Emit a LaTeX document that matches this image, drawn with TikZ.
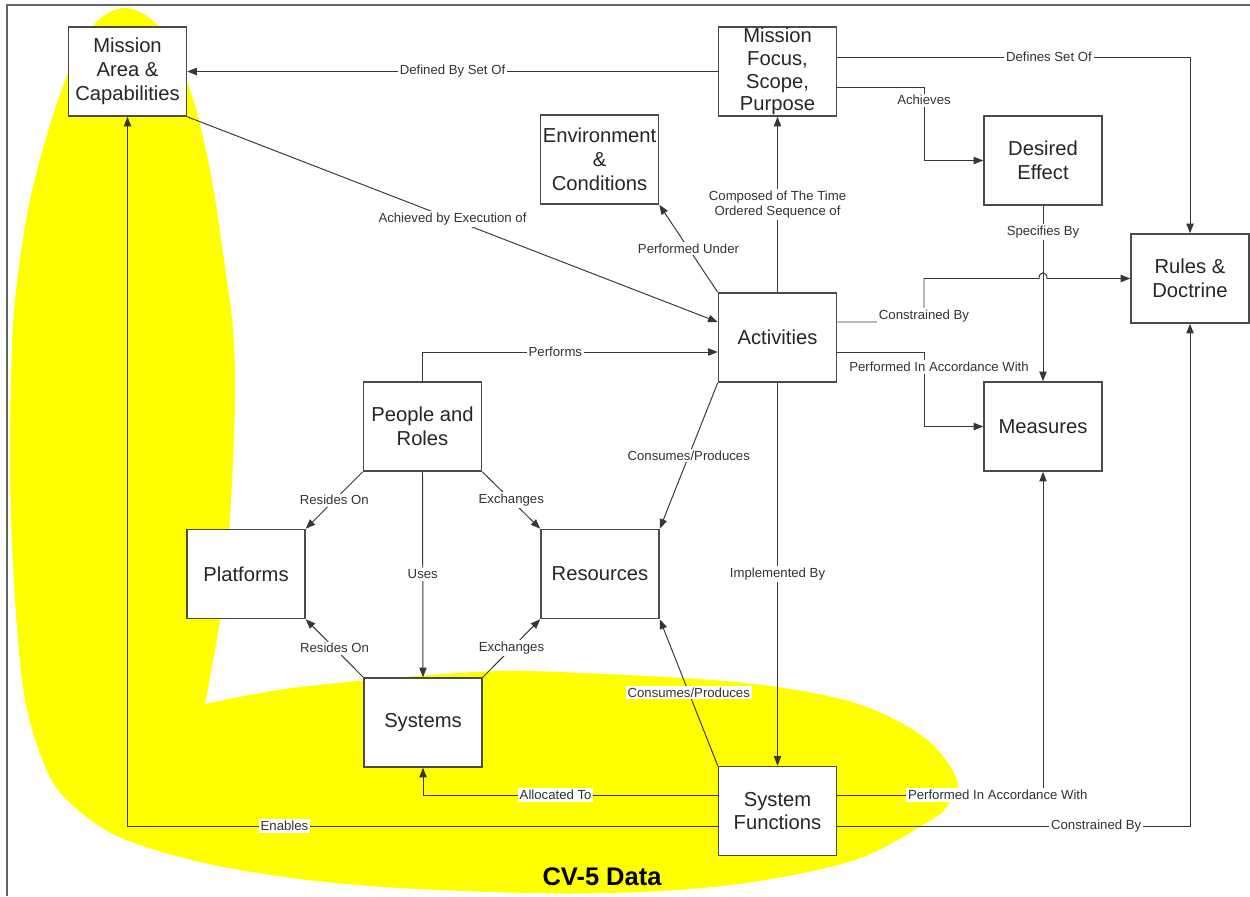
\documentclass[tikz,border=0pt]{standalone}
\usepackage{fontspec}
\setmainfont{Liberation Sans}
\usetikzlibrary{arrows.meta}
\definecolor{cvyellow}{RGB}{255,255,0}
\definecolor{edgegray}{RGB}{55,55,55}
\definecolor{boxgray}{RGB}{75,75,75}
\definecolor{framegray}{RGB}{100,100,100}

\begin{document}
\begin{tikzpicture}[x=0.02cm,y=-0.02cm,
  box/.style={draw=boxgray, line width=0.9pt, fill=white, minimum width=2.36cm,
    minimum height=1.78cm, inner sep=0pt, align=center,
    font=\fontsize{11.5}{13.6}\selectfont, text=black!85},
  conn/.style={draw=edgegray, line width=0.55pt, -{Triangle[length=5.5pt,width=4.2pt]}},
  lbl/.style={fill=white, inner sep=1pt, align=center,
    font=\fontsize{7.5}{9}\selectfont, text=black!80},
  title/.style={font=\fontsize{14.5}{17}\selectfont\bfseries, text=black}
]
\useasboundingbox (0,0) rectangle (1250,896);

% CV-5 data region
\fill[cvyellow] plot[smooth, tension=0.55] coordinates {
  (205,704) (300,687) (475,672) (583,673) (746,683) (855,703) (925,738)
  (957,780) (948,805) (928,822) (855,860) (746,883) (640,892) (529,893)
  (400,888) (300,879) (200,862) (117,836) (67,800) (45,766) (25,700)
  (15,600) (10,480) (11,380) (15,300) (30,200) (58,100) (88,32) (123,8)
  (160,28) (190,90) (210,170) (224,260) (233,330) (235,400) (231,500)
  (223,600) (205,704)};

% frame
\draw[framegray, line width=0.7pt] (7,896) -- (7,5) -- (1250,5);

% boxes
\node[box] (ma)   at (127.5,71.5) {Mission\\Area \&\\Capabilities};
\node[box] (mf)   at (777.5,71.5) {\smash{\raisebox{-3.4pt}{\fontsize{11.5}{12.9}\selectfont
  \begin{tabular}{@{}c@{}}Mission\\Focus,\\Scope,\\Purpose\end{tabular}}}};
\node[box] (env)  at (599.5,159.5) {Environment\\\&\\Conditions};
\node[box] (de)   at (1043,160.5) {Desired\\Effect};
\node[box] (rd)   at (1190,278.5) {Rules \&\\Doctrine};
\node[box] (act)  at (777.5,337.5) {Activities};
\node[box] (ppl)  at (422.5,426.5) {People and\\Roles};
\node[box] (meas) at (1043,426.5) {Measures};
\node[box] (plat) at (246,574) {Platforms};
\node[box] (res)  at (600,574) {Resources};
\node[box] (sys)  at (423,722.5) {Systems};
\node[box] (sf)   at (777.5,811) {System\\Functions};

% connectors around the mission focus
\draw[conn] (mf.west) -- node[lbl] {Defined By Set Of} (ma.east);
\draw[conn] (mf.east |- 0,57) -| node[lbl, pos=0.3] {Defines Set Of} (rd.north);
\draw[conn] (mf.east |- 0,87) -| node[lbl, pos=0.59] {Achieves} (924,160.5) -- (de.west);
\draw[conn] (act.north) -- node[lbl] {Composed of The Time\\Ordered Sequence of} (mf.south);
\draw[conn] (act.north west) -- node[lbl] {Performed Under} (env.south east);
\draw[conn] (ma.south east) -- node[lbl] {Achieved by Execution of} (act.west |- 0,322);

% activities to rules and measures (with a hop over the vertical line)
\draw[conn] (act.east |- 0,322) -- (924,322) -- (924,278.5) -- (1039,278.5)
  .. controls (1039,271) and (1047,271) .. (1047,278.5) -- (rd.west);
\node[lbl] (lcb) at (924,316) {Constrained By};
\draw[conn] (act.east |- 0,352) -| (924,426.5) -- (meas.west);
\node[lbl] (lpa) at (939,367) {Performed In Accordance With};
\draw[conn] (de.south) -- node[lbl, pos=0.15] {Specifies By} (meas.north);

% people, resources, systems
\draw[conn] (ppl.north) |- node[lbl, pos=0.725] {Performs} (act.west |- 0,352);
\draw[conn] (act.south west) -- node[lbl] {Consumes/Produces} (res.north east);
\draw[conn] (ppl.south west) -- node[lbl] {Resides On} (plat.north east);
\draw[conn] (ppl.south east) -- node[lbl] {Exchanges} (res.north west);
\draw[conn] (ppl.south) -- node[lbl] {Uses} (sys.north);
\draw[conn] (sys.north west) -- node[lbl] {Resides On} (plat.south east);
\draw[conn] (sys.north east) -- node[lbl] {Exchanges} (res.south west);
\draw[conn] (act.south) -- node[lbl] {Implemented By} (sf.north);
\draw[conn] (sf.north west) -- node[lbl] {Consumes/Produces} (res.south east);

% system functions
\draw[conn] (sf.west |- 0,795) -| node[lbl, pos=0.275] {Allocated To} (sys.south);
\draw[conn] (sf.west |- 0,826) -| node[lbl, pos=0.367] {Enables} (ma.south);
\draw[conn] (sf.east |- 0,795) -| node[lbl, pos=0.39] {Performed In Accordance With} (meas.south);
\draw[conn] (sf.east |- 0,826) -| node[lbl, pos=0.367] {Constrained By} (rd.south);

\node[title] (cv5) at (602,877) {CV-5 Data};
\end{tikzpicture}
\end{document}
